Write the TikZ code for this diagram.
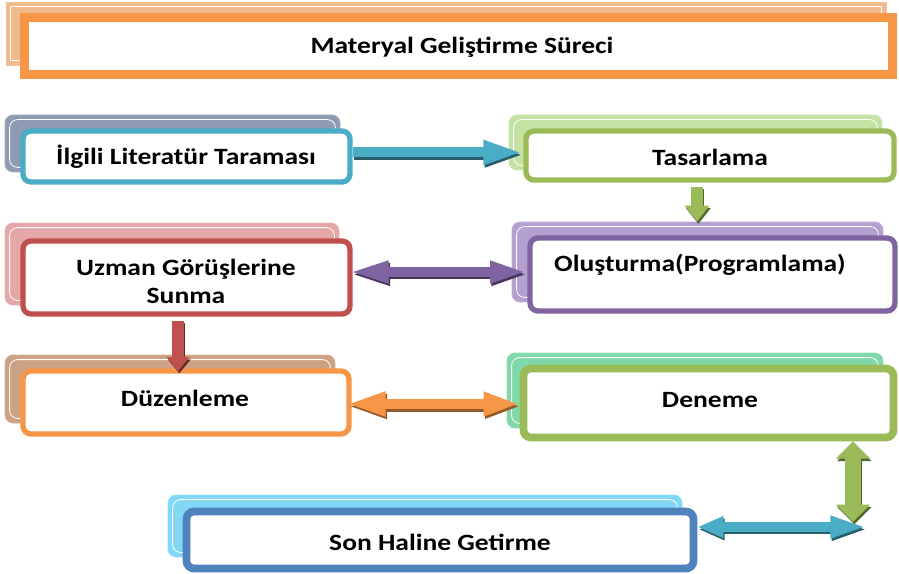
\documentclass[tikz,border=0pt]{standalone}
\usepackage{fontspec}
\setmainfont{Carlito}[FakeStretch=1.18]
\usetikzlibrary{fit,arrows.meta,calc}
\definecolor{cOrange}{HTML}{F79646}
\definecolor{cTeal}{HTML}{4BACC6}
\definecolor{cGreen}{HTML}{9BBB59}
\definecolor{cPurple}{HTML}{8064A2}
\definecolor{cRed}{HTML}{C0504D}
\definecolor{cBlue}{HTML}{4F81BD}
\definecolor{bTitle}{HTML}{F1BA8C}
\definecolor{bLit}{HTML}{8F9BB2}
\definecolor{bTas}{HTML}{C5E2A5}
\definecolor{bOlus}{HTML}{B3A0D0}
\definecolor{bUz}{HTML}{E5A7A8}
\definecolor{bDuz}{HTML}{CDA284}
\definecolor{bDen}{HTML}{80D7A7}
\definecolor{bSon}{HTML}{80D8F6}
\newcommand\mkback[4][6pt]{%
  \node[bk=#3, rounded corners=#1, fit={#4}] (#2) {};
  \draw[wl, rounded corners=#1] ($(#2.north west)+(5,5)$) rectangle ($(#2.south east)+(-5,-5)$);}
\newcommand\blk[4]{%
  \draw[#2, #3, transform canvas={shift={(1pt,-1.8pt)}}] #4;
  \draw[#1, #3] #4;}
\begin{document}
\begin{tikzpicture}[x=0.75pt,y=-0.75pt,
  bk/.style={fill=#1, draw=#1!85!white, line width=0.6pt, inner sep=0pt},
  fr/.style={fill=white, draw=#1, line width=4pt, rounded corners=6pt, inner sep=0pt},
  txt/.style={font=\bfseries\fontsize{17.5}{21}\selectfont, align=center, inner sep=0pt},
  inl/.style={draw=#1, line width=1.1pt, rounded corners=3pt},
  wl/.style={draw=white, line width=0.6pt}]
\useasboundingbox (0,0) rectangle (899,574);

% back boxes
\mkback[0pt]{tb}{bTitle}{(6,2)(886,65)}
\mkback{litB}{bLit}{(5,115)(340,172)}
\mkback{tasB}{bTas}{(509,115)(882,170)}
\mkback{olusB}{bOlus}{(512,222)(883,302)}
\mkback{uzB}{bUz}{(5,223)(339,305)}
\mkback{duzB}{bDuz}{(5,355)(335,423)}
\mkback{denB}{bDen}{(507,353)(883,428)}
\mkback{sonB}{bSon}{(168,495)(682,557)}

% front boxes
\node[fr=cOrange, rounded corners=0pt, line width=5.5pt, fit={(24,17)(893,75)}] (title) {};
\draw[inl=cOrange, rounded corners=0pt] ($(title.north west)+(8,8)$) rectangle ($(title.south east)+(-8,-8)$);
\node[txt] (titlet) at (462,47) {Materyal Geliştirme Süreci};

\node[fr=cTeal, fit={(23,131)(350,182)}] (lit) {};
\node[txt] (litt) at (186,157) {İlgili Literatür Taraması};
\node[fr=cGreen, fit={(526,131)(894,180)}] (tas) {};
\node[txt] (tast) at (710,157) {Tasarlama};
\node[fr=cPurple, fit={(530,238)(895,311)}] (olus) {};
\node[txt] (olust) at (700,265) {Oluşturma(Programlama)};
\node[fr=cRed, fit={(23,241)(350,314)}] (uz) {};
\node[txt] (uzt) at (186,281) {Uzman Görüşlerine\\Sunma};
\node[fr=cOrange, fit={(23,371)(349,434)}] (duz) {};
\node[txt] (duzt) at (185,398) {Düzenleme};
\node[fr=cGreen, line width=5pt, fit={(523,368)(894,438)}] (den) {};
\draw[inl=cGreen] ($(den.north west)+(7,7)$) rectangle ($(den.south east)+(-7,-7)$);
\node[txt] (dent) at (710,400) {Deneme};
\node[fr=cBlue, line width=5pt, fit={(186,511)(694,569)}] (son) {};
\draw[inl=cBlue] ($(son.north west)+(7,7)$) rectangle ($(son.south east)+(-7,-7)$);
\node[txt] (sont) at (440,542) {Son Haline Getirme};

% connectors
\coordinate (a1) at ($(lit.east)+(0,-4)$);
\blk{cTeal}{cTeal!55!black}{line width=7.5pt, -{Triangle[length=30pt,width=16.5pt]}}{(a1) -- (a1 -| tas.west)}

\coordinate (a2) at ($(tas.south)+(-13,0)$);
\blk{cGreen}{cGreen!55!black}{line width=9pt, shorten <=3pt, -{Triangle[length=12pt,width=18pt]}}{(a2) -- (a2 |- olusB.north)}

\coordinate (a3) at ($(uz.east)+(-4,-5.5)$);
\blk{cPurple}{cPurple!55!black}{line width=7pt, {Triangle[length=30pt,width=15pt]}-{Triangle[length=28pt,width=15pt]}}{(a3) -- (a3 -| olus.west)}

\coordinate (a4) at ($(uz.south)+(-8.5,0)$);
\blk{cRed}{cRed!55!black}{line width=9pt, shorten <=3pt, shorten >=-2pt, -{Triangle[length=10.5pt,width=16.5pt]}}{(a4) -- (a4 |- duz.north)}

\coordinate (a5) at ($(duz.east)+(-6,1.5)$);
\blk{cOrange}{cOrange!60!black}{line width=8pt, {Triangle[length=30pt,width=16.5pt]}-{Triangle[length=27pt,width=16.5pt]}}{(a5) -- (a5 -| den.west)}

\coordinate (c6) at (853,522);
\blk{cGreen}{cGreen!55!black}{line width=12pt, {Triangle[length=13pt,width=25pt]}-{Triangle[length=13pt,width=25pt]}}{(c6 |- den.south) -- (c6)}

\coordinate (c7) at (867,527);
\blk{cTeal}{cTeal!55!black}{line width=7.5pt, {Triangle[length=19.5pt,width=15pt]}-{Triangle[length=27.5pt,width=15pt]}}{(son.east |- c7) -- (c7)}
\end{tikzpicture}
\end{document}
